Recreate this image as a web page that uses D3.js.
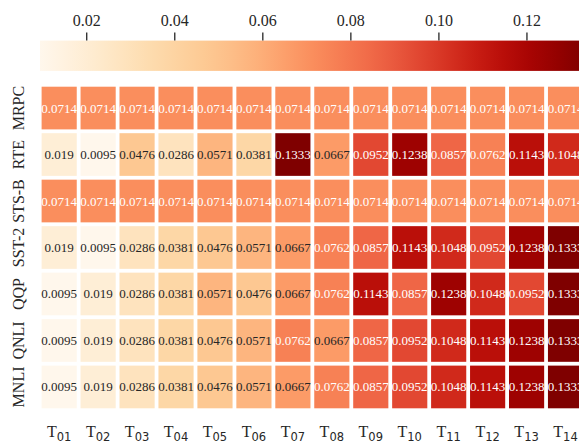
<!DOCTYPE html>
<html>
<head>
<meta charset="utf-8">
<script src="https://cdn.jsdelivr.net/npm/d3@7"></script>
<style>
  body { margin: 0; background: #fff; }
  text { font-family: "Liberation Serif", "Times New Roman", serif; }
</style>
</head>
<body>
<div id="chart"></div>
<script>
var tasks = ["MRPC", "RTE", "STS-B", "SST-2", "QQP", "QNLI", "MNLI"];
var steps = ["01", "02", "03", "04", "05", "06", "07", "08", "09", "10", "11", "12", "13", "14"];

var mrpc = [0.0714, 0.0714, 0.0714, 0.0714, 0.0714, 0.0714, 0.0714, 0.0714, 0.0714, 0.0714, 0.0714, 0.0714, 0.0714, 0.0714];
var rte  = [0.019, 0.0095, 0.0476, 0.0286, 0.0571, 0.0381, 0.1333, 0.0667, 0.0952, 0.1238, 0.0857, 0.0762, 0.1143, 0.1048];
var stsb = [0.0714, 0.0714, 0.0714, 0.0714, 0.0714, 0.0714, 0.0714, 0.0714, 0.0714, 0.0714, 0.0714, 0.0714, 0.0714, 0.0714];
var sst2 = [0.019, 0.0095, 0.0286, 0.0381, 0.0476, 0.0571, 0.0667, 0.0762, 0.0857, 0.1143, 0.1048, 0.0952, 0.1238, 0.1333];
var qqp  = [0.0095, 0.019, 0.0286, 0.0381, 0.0571, 0.0476, 0.0667, 0.0762, 0.1143, 0.0857, 0.1238, 0.1048, 0.0952, 0.1333];
var qnli = [0.0095, 0.019, 0.0286, 0.0381, 0.0476, 0.0571, 0.0762, 0.0667, 0.0857, 0.0952, 0.1048, 0.1143, 0.1238, 0.1333];
var mnli = [0.0095, 0.019, 0.0286, 0.0381, 0.0476, 0.0571, 0.0667, 0.0762, 0.0857, 0.0952, 0.1048, 0.1143, 0.1238, 0.1333];
var colorbarTicks = [0.02, 0.04, 0.06, 0.08, 0.10, 0.12];

var rows = [mrpc, rte, stsb, sst2, qqp, qnli, mnli];

var width = 579, height = 447;
var svg = d3.select("#chart").append("svg")
    .attr("width", width)
    .attr("height", height);

var vmin = 0.0095, vmax = 0.1333;
var color = d3.scaleSequential(d3.interpolateOrRd).domain([vmin, vmax]);

var x = d3.scaleBand().domain(steps).range([39.7, 585]);
var y = d3.scaleBand().domain(tasks).range([84.8, 410.2]);
var inset = 1.9;

// cells
var cells = [];
rows.forEach(function(r, i) {
  r.forEach(function(v, j) {
    cells.push({task: tasks[i], step: steps[j], value: v});
  });
});

var g = svg.append("g");
g.selectAll("rect")
  .data(cells)
  .enter().append("rect")
    .attr("x", d => x(d.step) + inset)
    .attr("y", d => y(d.task) + inset)
    .attr("width", x.bandwidth() - 2 * inset)
    .attr("height", y.bandwidth() - 2 * inset)
    .attr("fill", d => color(d.value));

g.selectAll("text.val")
  .data(cells)
  .enter().append("text")
    .attr("class", "val")
    .attr("x", d => x(d.step) + x.bandwidth() / 2)
    .attr("y", d => y(d.task) + y.bandwidth() / 2)
    .attr("text-anchor", "middle")
    .attr("dominant-baseline", "central")
    .attr("font-size", 13)
    .attr("fill", d => d.value < 0.07 ? "#262626" : "#ffffff")
    .text(d => d.value);

// row labels
svg.selectAll("text.row")
  .data(tasks)
  .enter().append("text")
    .attr("class", "row")
    .attr("transform", d => "translate(18.5," + (y(d) + y.bandwidth() / 2) + ") rotate(-90)")
    .attr("text-anchor", "middle")
    .attr("dominant-baseline", "central")
    .attr("font-size", 16)
    .attr("fill", "#262626")
    .text(d => d);

// column labels
var colLab = svg.selectAll("text.col")
  .data(steps)
  .enter().append("text")
    .attr("class", "col")
    .attr("x", d => x(d) + x.bandwidth() / 2)
    .attr("y", 437)
    .attr("text-anchor", "middle")
    .attr("font-size", 16)
    .attr("fill", "#262626");
colLab.append("tspan").text("T");
colLab.append("tspan")
    .attr("dy", 3.5)
    .attr("font-size", 11.5)
    .style("font-family", "DejaVu Sans, sans-serif")
    .text(d => d);

// colorbar
var cb = d3.scaleLinear().domain([vmin, vmax]).range([40, 585]);
var defs = svg.append("defs");
var grad = defs.append("linearGradient").attr("id", "cbgrad");
d3.range(0, 1.0001, 0.05).forEach(function(t) {
  grad.append("stop")
    .attr("offset", (t * 100) + "%")
    .attr("stop-color", d3.interpolateOrRd(t));
});
svg.append("rect")
  .attr("x", cb.range()[0])
  .attr("y", 40.6)
  .attr("width", cb.range()[1] - cb.range()[0])
  .attr("height", 30.3)
  .attr("fill", "url(#cbgrad)");

var axis = d3.axisTop(cb)
  .tickValues(colorbarTicks)
  .tickFormat(d3.format(".2f"))
  .tickSize(8)
  .tickPadding(7);
var ax = svg.append("g")
  .attr("transform", "translate(0,40.6)")
  .call(axis);
ax.select(".domain").remove();
ax.selectAll("line").attr("stroke", "#262626").attr("stroke-width", 1.3);
ax.selectAll("text")
  .attr("font-size", 16)
  .attr("fill", "#262626")
  .style("font-family", "Liberation Serif, serif");
</script>
</body>
</html>
